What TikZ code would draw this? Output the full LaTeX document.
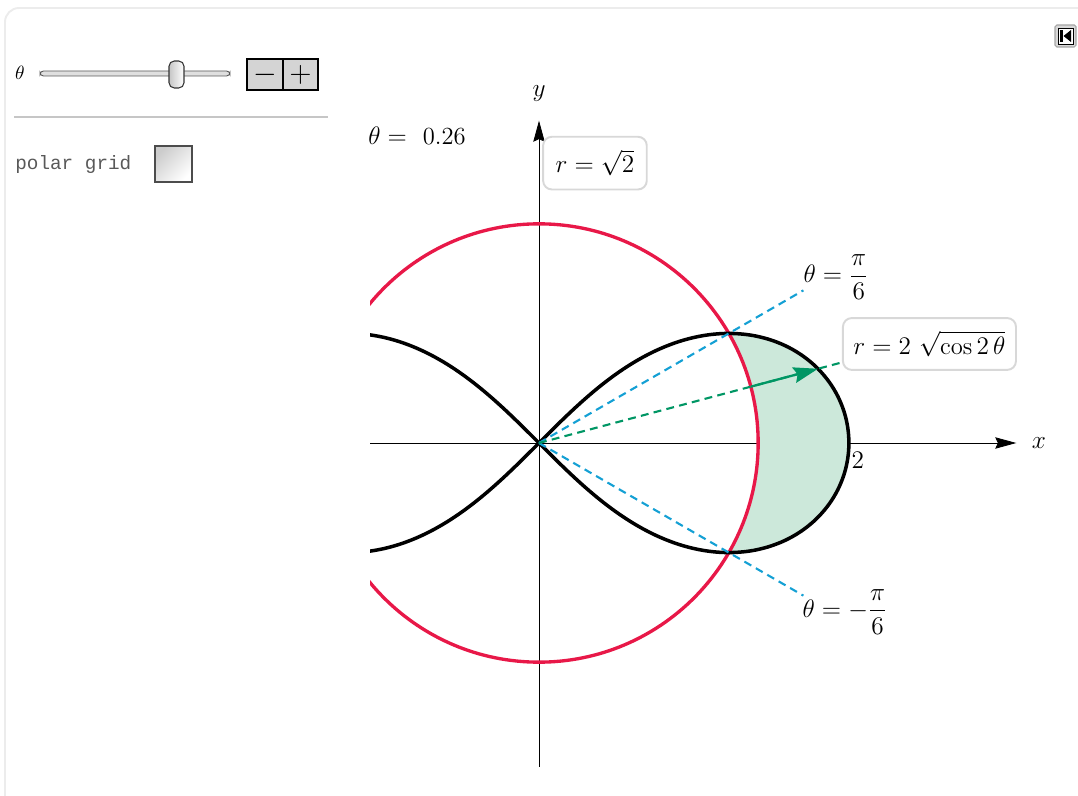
\documentclass[tikz,border=0pt]{standalone}
\usepackage{amsmath}
\usepackage{fontspec}
\newfontfamily\monofont{Liberation Mono}
\usetikzlibrary{arrows.meta}

\definecolor{curvered}{RGB}{232,24,72}
\definecolor{rayblue}{RGB}{20,160,212}
\definecolor{raygreen}{RGB}{0,150,100}
\definecolor{areagreen}{RGB}{204,232,218}
\definecolor{boxgray}{RGB}{216,216,216}
\definecolor{framegray}{RGB}{236,236,236}
\definecolor{btngray}{RGB}{212,212,212}

\tikzset{
  lbl/.style={font=\fontsize{14}{17}\selectfont, inner sep=0pt},
  eqbox/.style={lbl, draw=boxgray, line width=1.1pt, rounded corners=5pt, fill=white},
  axisline/.style={line width=0.45pt, -{Stealth[length=12pt,width=6.5pt,inset=1.5pt]}},
  raydash/.style={line width=1.2pt, dash pattern=on 4.5pt off 3pt},
}

\begin{document}
\begin{tikzpicture}[x=0.02cm,y=0.02cm]
  \useasboundingbox (0,0) rectangle (1078,795);
  % panel frame
  \draw[framegray, line width=1.1pt, rounded corners=8pt] (5,-20) -- (5,787) -- (1100,787);
  % controls
  \node[font=\fontsize{11}{12}\selectfont] (thetactl) at (20,722) {$\theta$};
  \draw[gray!70!black, fill=gray!25, rounded corners=2pt, line width=0.5pt] (40,719) rectangle (230,724);
  \shade[left color=gray!45, right color=white, draw=gray!40!black, rounded corners=3pt, line width=0.6pt] (169,707) rectangle (184,734);
  \draw[fill=btngray, line width=1.1pt] (247,705) rectangle (283,736);
  \draw[fill=btngray, line width=1.1pt] (283,705) rectangle (318,736);
  \node[font=\fontsize{17}{18}\selectfont] (minus) at (265,720.5) {$-$};
  \node[font=\fontsize{17}{18}\selectfont] (plus) at (300.5,720.5) {$+$};
  \draw[gray!45, line width=0.9pt] (14,678) -- (328,678);
  \node[anchor=west, inner sep=0pt, font=\monofont\fontsize{11}{12}\selectfont, text=gray!70!black] (grid) at (15,630) {polar grid};
  \shade[left color=gray!40, right color=white, shading angle=45] (155,613) rectangle (192,649);
  \draw[gray!60!black, line width=0.6pt] (155,613) rectangle (192,649);
  % icon
  \draw[gray!70, fill=gray!30, rounded corners=1pt, line width=0.6pt] (1055,748) rectangle (1076,770);
  \draw[fill=white, line width=0.5pt] (1058,751) rectangle (1073,767);
  \fill (1060,753) rectangle (1062.5,765);
  \fill (1071,753) -- (1071,765) -- (1063.5,759) -- cycle;
  % plot
  \begin{scope}[shift={(539,352)}, x=3.1cm, y=3.1cm]
    \coordinate (O) at (0,0);
    \coordinate (xl) at (-1.09,0);
    \coordinate (xr) at (3.08,0);
    \coordinate (yb) at (0,-2.09);
    \coordinate (yt) at (0,2.08);
    \draw[axisline] (xl) -- (xr);
    \draw[axisline] (yb) -- (yt);
    \begin{scope}
      \clip (-1.09,-2.2) rectangle (3.2,2.2);
      \fill[areagreen] plot[domain=-30:30, samples=60, smooth] ({2*sqrt(cos(2*\x))*cos(\x)},{2*sqrt(cos(2*\x))*sin(\x)}) arc[start angle=30, end angle=-30, radius=1.41421] -- cycle;
      \draw[curvered, line width=1.9pt] (O) circle (1.41421);
      \draw[line width=2pt] plot[domain=0:360, samples=240, smooth] ({2*cos(\x)/(1+sin(\x)*sin(\x))},{2*sin(\x)*cos(\x)/(1+sin(\x)*sin(\x))}) -- cycle;
    \end{scope}
    \coordinate (P1) at (30:1.97);
    \coordinate (P2) at (-30:1.97);
    \coordinate (G) at (14.9:2.03);
    \coordinate (A) at (14.9:1.41421);
    \coordinate (B) at (14.9:1.8631);
    \draw[rayblue, raydash] (O) -- (P1);
    \draw[rayblue, raydash] (O) -- (P2);
    \draw[raygreen, raydash] (O) -- (G);
    \draw[raygreen, line width=1.3pt, -{Stealth[length=14pt,width=9pt,inset=2pt]}] (A) -- (B);
    % labels
    \node[lbl] (ylab) at (0,2.258) {$y$};
    \node[lbl] (xlab) at (3.226,0) {$x$};
    \node[lbl] (two) at (2.058,-0.11) {$2$};
    \node[lbl] (thval) at (-0.787,1.981) {$\theta =$\ \ 0.26};
    \node[eqbox, minimum width=59pt, minimum height=30pt] (rcirc) at (0.361,1.806) {$r = \sqrt{2}$};
    \node[lbl] (tp) at (1.916,1.071) {$\theta = \dfrac{\pi}{6}$};
    \node[lbl] (tm) at (1.974,-1.090) {$\theta = -\dfrac{\pi}{6}$};
    \begin{scope}
      \clip (1.9,0.3) rectangle (3.09,1.0);
      \node[eqbox, anchor=west, minimum height=29.5pt, inner xsep=6pt] (rlem) at (1.955,0.639) {$r = 2\ \sqrt{\cos 2\,\theta}$};
    \end{scope}
  \end{scope}
\end{tikzpicture}
\end{document}
